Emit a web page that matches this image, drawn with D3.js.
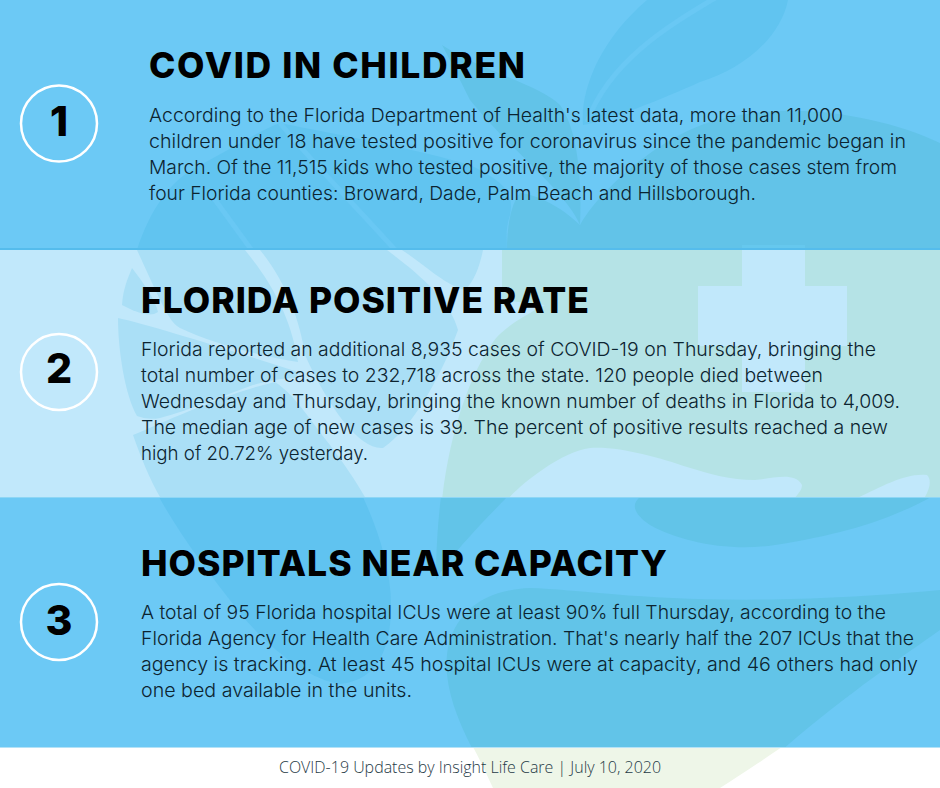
<!DOCTYPE html>
<html>
<head>
<meta charset="utf-8">
<script src="https://cdn.jsdelivr.net/npm/d3@7"></script>
<style>
  html, body { margin: 0; padding: 0; background: #fff; }
  svg { display: block; }
  .title { font-family: Inter, sans-serif; font-weight: 800; font-size: 35.5px; fill: #000; }
  .body { font-family: Inter, sans-serif; font-weight: 300; font-size: 19px; fill: #0c2430; }
  .num { font-family: Inter, sans-serif; font-weight: 800; font-size: 41px; fill: #000; text-anchor: middle; }
  .foot { font-family: "Open Sans", sans-serif; font-weight: 300; font-size: 16.5px; fill: #1f3a46; }
</style>
</head>
<body>
<script>
// the text of the three panels
var sectionNumbers = ["1", "2", "3"];
var sectionTitles = ["COVID IN CHILDREN", "FLORIDA POSITIVE RATE", "HOSPITALS NEAR CAPACITY"];
var sectionLines = [
  ["According to the Florida Department of Health's latest data, more than 11,000",
   "children under 18 have tested positive for coronavirus since the pandemic began in",
   "March. Of the 11,515 kids who tested positive, the majority of those cases stem from",
   "four Florida counties: Broward, Dade, Palm Beach and Hillsborough."],
  ["Florida reported an additional 8,935 cases of COVID-19 on Thursday, bringing the",
   "total number of cases to 232,718 across the state. 120 people died between",
   "Wednesday and Thursday, bringing the known number of deaths in Florida to 4,009.",
   "The median age of new cases is 39. The percent of positive results reached a new",
   "high of 20.72% yesterday."],
  ["A total of 95 Florida hospital ICUs were at least 90% full Thursday, according to the",
   "Florida Agency for Health Care Administration. That's nearly half the 207 ICUs that the",
   "agency is tracking. At least 45 hospital ICUs were at capacity, and 46 others had only",
   "one bed available in the units."]
];
var footerText = "COVID-19 Updates by Insight Life Care | July 10, 2020";

// layout
var width = 940, height = 788;
var bandTops = [0, 250, 497, 747];
var textX = [149, 141, 141];
var titleBase = [78, 313, 576];
var titleEnd = [525, 589, 667];
var bodyBase = [121.5, 356, 619];
var lineGap = 26;
var lineEnds = [[843, 906, 897, 756], [876, 823, 900, 888, 368], [886, 914, 918, 412]];
var circleY = [123.5, 372, 622];
var digitBase = [136, 383, 635];

var bandColor = ["#6cc9f5", "#c1e8fb", "#6cc9f5"];
var leafColor = ["#61c4f0", "#aadff6", "#60c3f0"];
var greenColor = ["#62c3e8", "#b5e3e6", "#62c4e8"];

// background artwork, one list per panel
var leaves = [
  ["M137,250C150,210 170,180 200,165C230,150 260,130 280,123C340,135 420,150 470,165C500,180 515,190 510,215C505,230 507,240 507,250Z",
   "M647,0L788,0C780,40 740,70 700,82C660,100 610,120 583,125C580,90 600,40 647,0Z"],
  ["M137,250L245,250C265,275 290,310 298,362C270,358 215,345 180,328C170,322 165,310 153,285Z",
   "M132,268C145,285 155,300 158,312C150,318 135,312 122,305C123,290 127,280 132,268Z",
   "M118,318C150,325 230,350 298,372L296,378C280,378 265,382 253,385C225,395 190,410 160,418C150,420 143,418 137,416C125,395 118,350 118,318Z",
   "M260,250L387,250C420,275 450,300 458,330C440,380 410,430 383,448C360,450 330,410 305,355C300,320 285,280 260,250Z",
   "M402,250L483,250C480,265 475,280 465,290C445,285 425,265 402,250Z",
   "M133,435C170,420 220,395 275,382C295,395 310,420 330,445C345,465 355,480 365,497L160,497C150,480 140,455 133,435Z"],
  ["M159,497L363,497C378,530 392,570 391,610C390,645 380,680 340,684C310,680 270,650 240,613C210,575 180,535 159,497Z"]
];
var veins = [
  ["M213,197L253,252", "M280,123C310,160 350,200 397,252", "M715,-2C670,25 610,60 587,122"],
  [],
  []
];
var greens = [
  ["M580,225C600,190 660,135 717,120C790,100 880,115 940,143L940,250L507,250C507,230 510,205 520,193C540,195 565,210 580,225Z",
   "M442,45C480,70 540,85 560,105C578,130 582,180 580,225C565,190 510,150 470,100C460,80 450,60 442,45Z"],
  ["M502,250L502,300L545,305C515,320 500,332 493,342C470,375 450,430 442,500L507,500C520,485 560,452 590,448C620,446 660,458 687,467C710,474 730,480 755,480C775,478 795,472 802,485C802,490 798,494 793,500L853,500C875,490 905,472 927,475C932,480 930,490 923,500L940,500L940,250Z"],
  ["M441,497L507,497C485,520 450,555 436,580C436,550 438,520 441,497Z",
   "M640,497C630,505 635,515 650,525C680,542 730,552 775,545C840,535 890,520 931,497Z",
   "M473,750C455,715 442,680 448,648C455,615 480,590 530,588C600,590 700,612 940,590L940,630C905,655 848,693 782,750Z"]
];

var svg = d3.select("body").append("svg")
  .attr("width", width)
  .attr("height", height)
  .attr("viewBox", "0 0 " + width + " " + height);

svg.append("rect").attr("width", width).attr("height", height).attr("fill", "#fff");
svg.append("path")
  .attr("d", "M473,747C480,760 487,775 493,788L720,788C740,775 760,762 782,747Z")
  .attr("fill", "#eef6e8");

var defs = svg.append("defs");
var bands = svg.selectAll("g.band").data(sectionNumbers).join("g").attr("class", "band");

bands.each(function (d, i) {
  var h = bandTops[i + 1] - bandTops[i];
  defs.append("clipPath").attr("id", "clip" + i)
    .append("rect").attr("y", bandTops[i]).attr("width", width).attr("height", h);

  var g = d3.select(this).attr("clip-path", "url(#clip" + i + ")");
  g.append("rect").attr("y", bandTops[i]).attr("width", width).attr("height", h).attr("fill", bandColor[i]);
  g.selectAll("path.leaf").data(leaves[i]).join("path").attr("class", "leaf")
    .attr("d", function (p) { return p; }).attr("fill", leafColor[i]);
  g.selectAll("path.vein").data(veins[i]).join("path").attr("class", "vein")
    .attr("d", function (p) { return p; }).attr("fill", "none")
    .attr("stroke", "#69c8f4").attr("stroke-width", 5);
  g.selectAll("path.green").data(greens[i]).join("path").attr("class", "green")
    .attr("d", function (p) { return p; }).attr("fill", greenColor[i]);
});

// the cross sits over the green, it shows through panel 1 and 2
var cross = "M742,245H805V286H847V346H805V392H742V346H698V286H742Z";
bands.filter(function (d, i) { return i < 2; }).append("path")
  .attr("d", cross)
  .attr("fill", function (d, i) { return i === 0 ? "#66c8ee" : bandColor[1]; });

// thin edges between the panels
svg.append("rect").attr("y", 248).attr("width", width).attr("height", 2).attr("fill", "#55bcec");
svg.append("rect").attr("y", 497).attr("width", width).attr("height", 1).attr("fill", "#8ed6f5");
svg.append("rect").attr("y", 747).attr("width", width).attr("height", 1).attr("fill", "#b4e2f7");

// panel text
var panels = svg.selectAll("g.panel").data(sectionTitles).join("g").attr("class", "panel");

panels.append("text").attr("class", "title")
  .attr("x", function (d, i) { return textX[i]; })
  .attr("y", function (d, i) { return titleBase[i]; })
  .attr("textLength", function (d, i) { return titleEnd[i] - textX[i]; })
  .attr("lengthAdjust", "spacing")
  .text(function (d) { return d; });

panels.each(function (d, i) {
  d3.select(this).selectAll("text.body").data(sectionLines[i]).join("text").attr("class", "body")
    .attr("x", textX[i])
    .attr("y", function (l, j) { return bodyBase[i] + j * lineGap; })
    .attr("textLength", function (l, j) { return lineEnds[i][j] - textX[i]; })
    .attr("lengthAdjust", "spacingAndGlyphs")
    .text(function (l) { return l; });
});

panels.append("circle")
  .attr("cx", 59)
  .attr("cy", function (d, i) { return circleY[i]; })
  .attr("r", 38)
  .attr("fill", "none")
  .attr("stroke", "#fff")
  .attr("stroke-width", 2.5);

panels.append("text").attr("class", "num")
  .attr("x", 59)
  .attr("y", function (d, i) { return digitBase[i]; })
  .text(function (d, i) { return sectionNumbers[i]; });

svg.append("text").attr("class", "foot")
  .attr("x", 279)
  .attr("y", 773)
  .attr("textLength", 382)
  .attr("lengthAdjust", "spacingAndGlyphs")
  .text(footerText);
</script>
</body>
</html>
